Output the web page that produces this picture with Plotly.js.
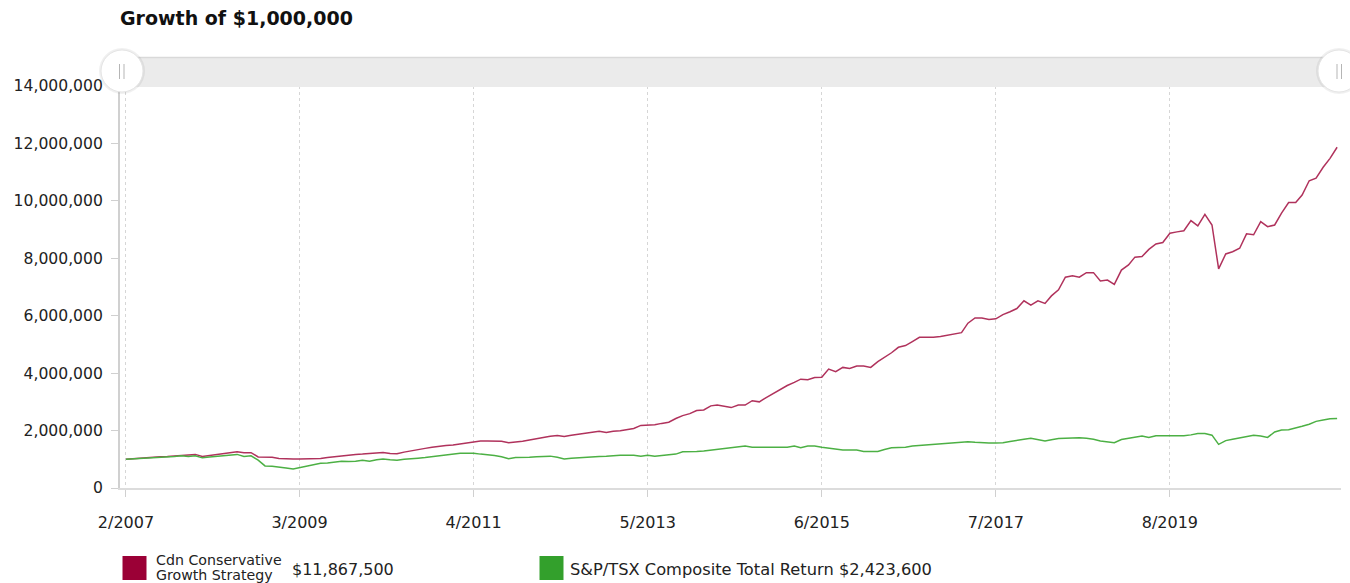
<!DOCTYPE html>
<html>
<head>
<meta charset="utf-8">
<script src="https://cdn.plot.ly/plotly-3.0.1.min.js"></script>
<style>
  html, body { margin: 0; padding: 0; background: #fff; }
  #chart { width: 1350px; height: 583px; }
</style>
</head>
<body>
<div id="chart"></div>
<script>
// ---- Data (values in millions of dollars, monthly from 2/2007) ----
const firstMonth = "2007-02";
const strategyName = "Cdn Conservative Growth Strategy";
const benchmarkName = "S&amp;P/TSX Composite Total Return";
const strategyFinal = "$11,867,500";
const benchmarkFinal = "$2,423,600";

const strategyValues = [
  1.00,1.02,1.04,1.06,1.07,1.09,1.10,1.12,1.13,1.15,
  1.17,1.10,1.13,1.15,1.19,1.23,1.26,1.23,1.23,1.08,
  1.07,1.07,1.03,1.01,1.01,1.01,1.01,1.01,1.03,1.06,
  1.09,1.11,1.14,1.17,1.18,1.20,1.24,1.24,1.20,1.19,
  1.25,1.30,1.33,1.38,1.42,1.46,1.48,1.50,1.53,1.57,
  1.60,1.64,1.64,1.64,1.63,1.58,1.60,1.63,1.67,1.72,
  1.77,1.80,1.83,1.79,1.84,1.88,1.90,1.94,1.98,1.93,
  1.98,1.99,2.02,2.07,2.18,2.18,2.20,2.25,2.29,2.42,
  2.52,2.59,2.70,2.72,2.86,2.89,2.85,2.80,2.89,2.89,
  3.04,3.00,3.15,3.30,3.45,3.57,3.68,3.79,3.77,3.85,
  3.86,4.14,4.05,4.20,4.16,4.25,4.25,4.20,4.40,4.55,
  4.71,4.90,4.96,5.10,5.25,5.25,5.25,5.28,5.33,5.38,
  5.41,5.74,5.92,5.92,5.87,5.89,6.04,6.14,6.25,6.52,
  6.37,6.52,6.43,6.69,6.90,7.34,7.39,7.34,7.50,7.50,
  7.21,7.24,7.09,7.59,7.77,8.04,8.06,8.31,8.50,8.55,
  8.87,8.92,8.96,9.31,9.13,9.53,9.16,7.63,8.15,8.23,
  8.35,8.85,8.82,9.28,9.10,9.16,9.57,9.94,9.94,10.20,
  10.70,10.79,11.17,11.48,11.8675
];

const benchmarkValues = [
  1.00,1.01,1.03,1.05,1.06,1.07,1.08,1.10,1.12,1.10,
  1.12,1.05,1.08,1.10,1.13,1.15,1.17,1.10,1.12,0.97,
  0.77,0.76,0.74,0.70,0.66,0.71,0.76,0.82,0.86,0.87,
  0.90,0.93,0.92,0.93,0.97,0.93,0.98,1.01,0.98,0.97,
  1.00,1.03,1.04,1.06,1.09,1.11,1.14,1.17,1.21,1.21,
  1.21,1.18,1.16,1.13,1.09,1.02,1.06,1.06,1.07,1.09,
  1.11,1.11,1.07,1.01,1.04,1.06,1.08,1.09,1.10,1.11,
  1.13,1.14,1.14,1.14,1.11,1.14,1.11,1.14,1.16,1.18,
  1.26,1.26,1.27,1.29,1.32,1.34,1.37,1.40,1.44,1.46,
  1.42,1.42,1.42,1.42,1.42,1.42,1.46,1.40,1.46,1.46,
  1.42,1.39,1.34,1.32,1.32,1.32,1.27,1.27,1.27,1.34,
  1.40,1.41,1.42,1.46,1.48,1.49,1.50,1.53,1.56,1.58,
  1.59,1.61,1.59,1.57,1.57,1.57,1.58,1.62,1.67,1.70,
  1.73,1.69,1.64,1.68,1.72,1.73,1.74,1.75,1.73,1.70,
  1.64,1.61,1.58,1.69,1.73,1.78,1.81,1.76,1.82,1.82,
  1.82,1.82,1.82,1.85,1.90,1.90,1.84,1.52,1.65,1.70,
  1.75,1.79,1.84,1.81,1.76,1.95,2.02,2.03,2.08,2.15,
  2.22,2.32,2.37,2.41,2.4236
];

const tickDates  = ["2007-02-01","2009-03-01","2011-04-01","2013-05-01","2015-06-01","2017-07-01","2019-08-01"];
const tickLabels = ["2/2007","3/2009","4/2011","5/2013","6/2015","7/2017","8/2019"];

// ---- monthly dates ----
function monthDates(start, n) {
  const [y0, m0] = start.split("-").map(Number);
  const out = [];
  for (let k = 0; k < n; k++) {
    const t = (m0 - 1) + k;
    const y = y0 + Math.floor(t / 12);
    const m = (t % 12) + 1;
    out.push(y + "-" + String(m).padStart(2, "0") + "-01");
  }
  return out;
}
const dates = monthDates(firstMonth, strategyValues.length);
const toDollars = v => v * 1e6;

// ---- layout geometry (pixels) ----
const W = 1350, H = 583;
const L = 120, R = 1341, T = 86, B = 488;
const px = x => (x - L) / (R - L);
const py = y => (B - y) / (B - T);

const FONT = "DejaVu Sans, Verdana, sans-serif";
const RED = "#9b0036", GREEN = "#33a02c";

const traces = [
  { x: dates, y: strategyValues.map(toDollars), type: "scatter", mode: "lines",
    name: strategyName, line: { color: "#b0325c", width: 1.5 }, hoverinfo: "x+y" },
  { x: dates, y: benchmarkValues.map(toDollars), type: "scatter", mode: "lines",
    name: benchmarkName, line: { color: "#4cb044", width: 1.5 }, hoverinfo: "x+y" }
];

function circle(cx, cy, r, fill, lineColor, lw) {
  return { type: "circle", xref: "paper", yref: "paper",
    x0: px(cx - r), x1: px(cx + r), y0: py(cy + r), y1: py(cy - r),
    fillcolor: fill, line: { color: lineColor, width: lw } };
}
function rect(x0, y0, x1, y1, fill) {
  return { type: "rect", xref: "paper", yref: "paper",
    x0: px(x0), x1: px(x1), y0: py(y1), y1: py(y0),
    fillcolor: fill, line: { width: 0 } };
}
function seg(x0, y0, x1, y1, color, w) {
  return { type: "line", xref: "paper", yref: "paper",
    x0: px(x0), x1: px(x1), y0: py(y0), y1: py(y1),
    line: { color: color, width: w } };
}

const shapes = [
  // navigator band
  rect(L, 57.5, R + 2, 87, "#ebebeb"),
  seg(L, 57.5, R + 2, 57.5, "#d9d9d9", 1.5),
  // left handle
  circle(122, 71, 23, "rgba(0,0,0,0.06)", "rgba(0,0,0,0)", 0),
  circle(122, 71, 21, "#ffffff", "#e4e4e4", 1),
  seg(119.5, 64, 119.5, 79, "#b5b5b5", 1),
  seg(124, 64, 124, 79, "#b5b5b5", 1),
  // right handle
  circle(1339, 71, 23, "rgba(0,0,0,0.06)", "rgba(0,0,0,0)", 0),
  circle(1339, 71, 21, "#ffffff", "#e4e4e4", 1),
  seg(1337, 64, 1337, 79, "#b5b5b5", 1),
  seg(1341.5, 64, 1341.5, 79, "#b5b5b5", 1),
  // legend swatches
  rect(122.5, 556, 146.5, 580, RED),
  rect(539.5, 556, 563.5, 580, GREEN)
];

function label(text, x, y, size) {
  return { text: text, xref: "paper", yref: "paper", x: px(x), y: py(y),
    xanchor: "left", yanchor: "middle", showarrow: false, borderpad: 0,
    font: { family: FONT, size: size, color: "#222" } };
}
const annotations = [
  label("Cdn Conservative", 155, 560, 14.2),
  label("Growth Strategy", 155, 575, 14.2),
  label(strategyFinal, 291, 569, 16),
  label(benchmarkName + " " + benchmarkFinal, 569, 569, 16.25)
];

const layout = {
  width: W, height: H,
  margin: { l: L, r: W - R, t: T, b: H - B, pad: 0 },
  paper_bgcolor: "#ffffff", plot_bgcolor: "#ffffff",
  showlegend: false,
  title: { text: "<b>Growth of $1,000,000</b>", xref: "container", yref: "container",
    x: 120 / W, xanchor: "left", y: 1 - 18 / H, yanchor: "middle",
    font: { family: FONT, size: 19, color: "#111" } },
  xaxis: {
    type: "date", range: ["2007-01-06", "2021-08-18"],
    tickvals: tickDates, ticktext: tickLabels,
    showgrid: true, gridcolor: "#d6d6d6", gridwidth: 1, griddash: "3px,3px",
    showline: true, linecolor: "#dcdcdc", linewidth: 2,
    ticks: "outside", ticklen: 7, tickcolor: "#d0d0d0", tickwidth: 1,
    ticklabelstandoff: 12,
    zeroline: false, fixedrange: true,
    tickfont: { family: FONT, size: 16, color: "#222" }
  },
  yaxis: {
    range: [0, 14e6], tickmode: "linear", tick0: 0, dtick: 2e6, tickformat: ",d",
    showgrid: false, zeroline: false,
    showline: true, linecolor: "#d0d0d0", linewidth: 2,
    ticks: "outside", ticklen: 7, tickcolor: "#d0d0d0", tickwidth: 1,
    ticklabelstandoff: 5, fixedrange: true,
    tickfont: { family: FONT, size: 15.6, color: "#222" }
  },
  shapes: shapes,
  annotations: annotations
};

Plotly.newPlot("chart", traces, layout, { displayModeBar: false, staticPlot: true });
</script>
</body>
</html>
